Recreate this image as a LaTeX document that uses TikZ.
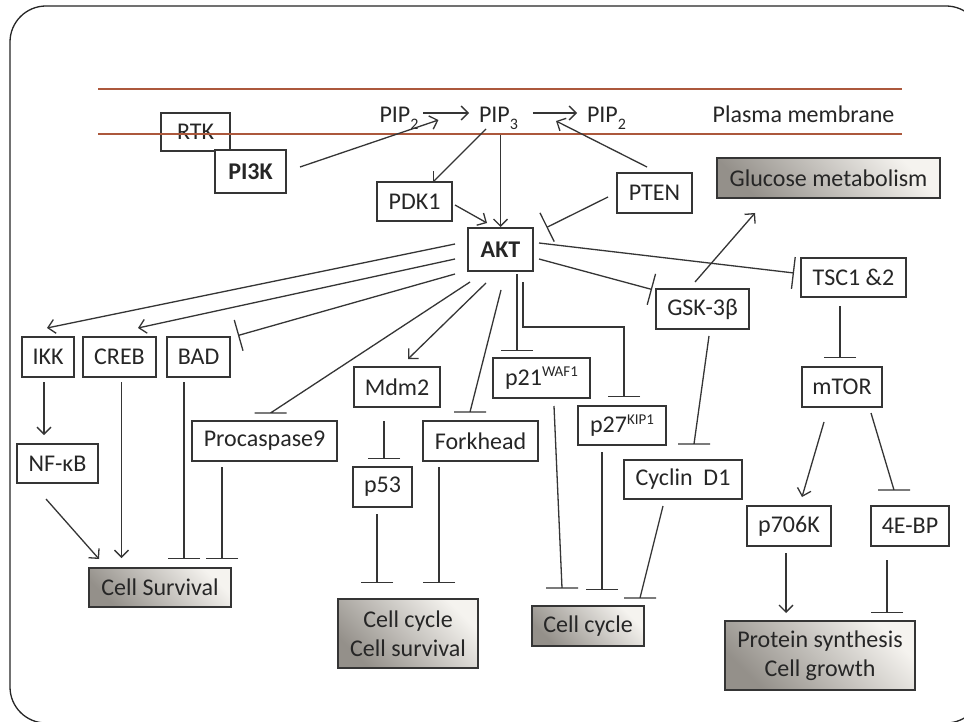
\documentclass[tikz,border=0pt]{standalone}
\usepackage{fontspec}
\setmainfont{Carlito}
\usetikzlibrary{arrows.meta,calc}
% raised / lowered small text for gene names and lipid indices
\newcommand\supx[1]{\raisebox{0.36em}{\fontsize{15}{15}\selectfont #1}}
\newcommand\subx[1]{\raisebox{-0.26em}{\fontsize{16}{16}\selectfont #1}}
\definecolor{ink}{HTML}{353535}
\definecolor{membrane}{RGB}{172,88,60}
\definecolor{shadedark}{HTML}{94908A}
\definecolor{shadelight}{HTML}{F5F3EF}

\begin{document}
\begin{tikzpicture}[x=1pt,y=-1pt,
  line width=1.3pt,
  every node/.style={font=\fontsize{24}{29}\selectfont, text=black!85, inner sep=0pt, outer sep=0pt},
  box/.style={draw=ink, line width=1.3pt, align=center},
  boldbox/.style={box, font=\fontsize{24}{29}\selectfont\bfseries},
  outcome/.style={box, top color=shadelight, bottom color=shadedark, shading angle=-45},
  act/.style={draw=ink, -{Straight Barb[length=7pt,width=14pt]}},
  inh/.style={draw=ink, -{Bar[width=32pt]}},
  link/.style={draw=ink},
  frame/.style={draw=black!85, line width=1.3pt, rounded corners=36pt},
]
\useasboundingbox (0,0) rectangle (964,722);
\clip (0,0) rectangle (964,722);
\fill[white] (0,0) rectangle (964,722);

% slide frame
\draw[frame] (10,6) rectangle (982,723);

% receptor and kinase at the membrane
\node[box, minimum width=69pt, minimum height=38pt] (RTK) at (195.5,132) {RTK};

% plasma membrane
\draw[draw=membrane, line width=1.2pt] (98,89) -- (902,89);
\draw[draw=membrane, line width=1.2pt] (98,134) -- (902,134);

\node[boldbox, fill=white, minimum width=71pt, minimum height=43pt] (PI3K) at (250.5,171.5) {PI3K};

% lipid species
\node[anchor=base] (PIP2a) at (399,123) {PIP\subx{2}};
\node[anchor=base] (PIP3) at (498.5,123) {PIP\subx{3}};
\node[anchor=base] (PIP2b) at (606.5,123) {PIP\subx{2}};
\node[anchor=base] (PM) at (803.5,123) {Plasma membrane};

% signalling nodes
\node[box, minimum width=75pt, minimum height=39pt] (PDK1) at (414.5,201.5) {PDK1};
\node[boldbox, minimum width=65pt, minimum height=43pt] (AKT) at (500.5,249.5) {AKT};
\node[box, minimum width=75pt, minimum height=40pt] (PTEN) at (654.5,193) {PTEN};
\node[outcome, minimum width=223pt, minimum height=40pt] (GLU) at (828.5,178) {Glucose metabolism};
\node[box, minimum width=105pt, minimum height=39pt] (TSC) at (853.5,277.5) {TSC1 \&2};
\node[box, minimum width=93pt, minimum height=40pt] (GSK) at (702.5,309) {GSK-3β};
\node[box, minimum width=52pt, minimum height=40pt] (IKK) at (48,357) {IKK};
\node[box, minimum width=73pt, minimum height=40pt] (CREB) at (119.5,357) {CREB};
\node[box, minimum width=63pt, minimum height=40pt] (BAD) at (198.5,357) {BAD};
\node[box, minimum width=81pt, minimum height=39pt] (NFKB) at (57.5,463.5) {NF-κB};
\node[box, minimum width=145pt, minimum height=40pt] (PC9) at (264.5,441) {Procaspase9};
\node[box, minimum width=86pt, minimum height=40pt] (MDM2) at (397,387) {Mdm2};
\node[box, minimum width=59pt, minimum height=40pt] (P53) at (382.5,487) {p53};
\node[box, minimum width=115pt, minimum height=40pt] (FKH) at (480.5,441) {Forkhead};
\node[box, minimum width=97pt, minimum height=40pt] (P21) at (541.5,378) {p21\supx{WAF1}};
\node[box, minimum width=88pt, minimum height=39pt] (P27) at (622,425.5) {p27\supx{KIP1}};
\node[box, minimum width=118pt, minimum height=39pt] (CYC) at (683,479.5) {Cyclin\ \ D1};
\node[box, minimum width=80pt, minimum height=40pt] (MTOR) at (842,387) {mTOR};
\node[box, minimum width=84pt, minimum height=40pt] (P70) at (789,526) {p706K};
\node[box, minimum width=78pt, minimum height=40pt] (EBP) at (910,526) {4E-BP};

% cellular outcomes
\node[outcome, minimum width=142pt, minimum height=39pt] (SURV) at (160,587.5) {Cell Survival};
\node[outcome, minimum width=140pt, minimum height=69pt] (CCS) at (408,633.5) {Cell cycle\\Cell survival};
\node[outcome, minimum width=112pt, minimum height=40pt] (CC) at (588,626) {Cell cycle};
\node[outcome, minimum width=190pt, minimum height=69pt] (PROT) at (820,655.5) {Protein synthesis\\Cell growth};

% membrane reactions
\draw[act] ($(PI3K.east)+(14,-4.5)$) -- ($(PIP2a.base east)+(20,-3)$);
\draw[act] ($(PIP2a.base east)+(5,-10)$) -- ($(PIP3.base west)+(-10,-10)$);
\draw[act] ($(PIP3.base east)+(15,-10)$) -- ($(PIP2b.base west)+(-10,-10)$);
\draw[act] ($(PTEN.north)+(-7.5,-6)$) -- ($(PIP2b.base west)+(-31,-2)$);

% activation of AKT
\draw[act] ($(PIP3.base)+(-12.5,6)$) -- ($(PDK1.north)+(18.5,0)$);
\draw[act] ($(PIP3.base -| AKT.north)+(0,12)$) -- ($(AKT.north)+(0,-1)$);
\draw[act] ($(PDK1.east)+(3,3.5)$) -- ($(AKT.north)+(-13.5,-5)$);
\draw[inh] ($(PTEN.west)+(-9,4)$) -- ($(AKT.east)+(13.5,-22)$);

% AKT targets
\draw[inh] ($(AKT.east)+(6,-6.5)$) -- ($(TSC.west)+(-7,-4.5)$);
\draw[inh] ($(AKT.east)+(6,9.5)$) -- ($(GSK.north west)+(-4,0.5)$);
\draw[act] ($(GSK.north)+(-7.5,-7)$) -- ($(GLU.south)+(-73.5,15)$);
\draw[link] ($(GSK.south)+(6.5,7)$) -- ($(CYC.north)+(11,-16)$) ++(-16,0) -- ++(32,0);

\draw[act] ($(AKT.west)+(-13,-5.5)$) -- ($(IKK.north)+(-1,-9)$);
\draw[act] ($(AKT.west)+(-13,9.5)$) -- ($(CREB.north)+(18.5,-9)$);
\draw[inh] ($(AKT.west)+(-13,24.5)$) -- ($(BAD.north east)+(8,-1.5)$);
\draw[link] ($(AKT.south west)+(2,11)$) -- ($(PC9.north)+(6,-8)$) ++(-16,0) -- ++(32,0);
\draw[act] ($(AKT.south)+(-14.5,12)$) -- ($(MDM2.north)+(11,-8)$);
\draw[link] ($(AKT.south)+(0.5,19)$) -- ($(FKH.north)+(-10.5,-9)$) ++(-16,0) -- ++(32,0);
\draw[inh] ($(AKT.south east)+(-16,3)$) -- ($(P21.north)+(-24.5,-7)$);
\draw[inh] ($(AKT.south east)+(-10,11)$) -- ++(0,45) -| ($(P27.north)+(2,-9)$);

% downstream effects
\draw[inh] ($(MDM2.south)+(-13,14)$) -- ($(P53.north)+(1.5,-8)$);
\draw[inh] ($(P53.south)+(-5.5,7)$) -- ($(CCS.north)+(-31,-16)$);
\draw[inh] ($(FKH.south)+(-41.5,6)$) -- ($(CCS.north)+(31,-16)$);
\draw[link] ($(P21.south)+(12.5,8)$) -- ($(CC.north)+(-26,-18)$) ++(-16,0) -- ++(32,0);
\draw[inh] ($(P27.south)+(-20,7)$) -- ($(CC.north)+(14,-16)$);
\draw[link] ($(CYC.south)+(-20,7)$) -- ($(CC.north east)+(-4,-8)$) ++(-16,0) -- ++(32,0);

\draw[inh] ($(TSC.south)+(-13.5,9)$) -- ($(MTOR.north)+(-2,-9)$);
\draw[act] ($(MTOR.south)+(-18,15)$) -- ($(P70.north)+(13,-9)$);
\draw[link] ($(MTOR.south east)+(-11,6)$) -- ($(EBP.north)+(-16,-16)$) ++(-16,0) -- ++(32,0);
\draw[act] ($(P70.south)+(-3,7)$) -- ($(PROT.north)+(-34,-8)$);
\draw[inh] ($(EBP.south)+(-23,14)$) -- ($(PROT.north)+(67,-8)$);

\draw[act] ($(IKK.south)+(-4,5)$) -- ($(NFKB.north)+(-13.5,-9)$);
\draw[act] ($(NFKB.south)+(-11.5,16)$) -- ($(SURV.north west)+(10,-9)$);
\draw[act] ($(CREB.south)+(2,5)$) -- ($(SURV.north)+(-38.5,-10)$);
\draw[inh] ($(BAD.south)+(-14.5,5)$) -- ($(SURV.north)+(24,-9)$);
\draw[inh] ($(PC9.south)+(-42.5,6)$) -- ($(SURV.north)+(62,-9)$);
\end{tikzpicture}
\end{document}
